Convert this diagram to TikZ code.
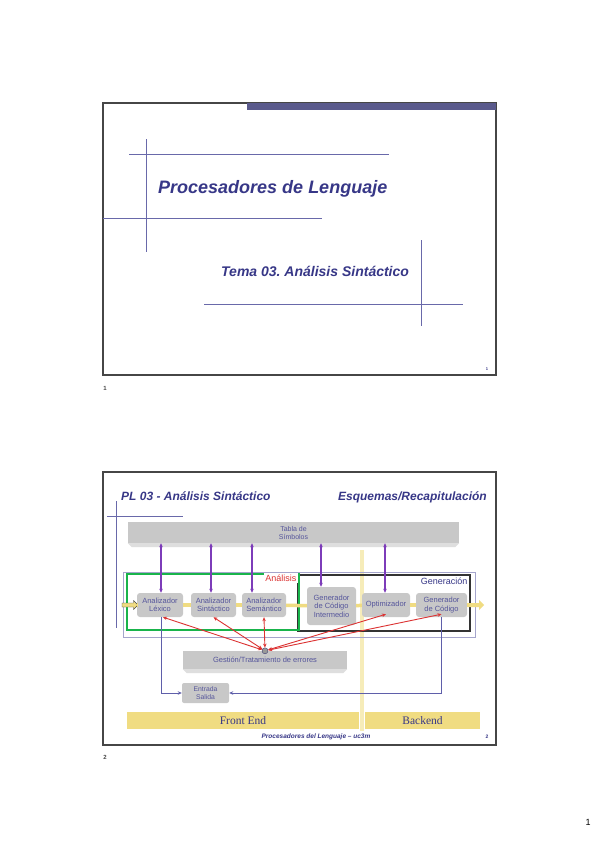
\documentclass[tikz,border=0pt]{standalone}
\usepackage{fontspec}
\setmainfont{Liberation Sans}
\newfontfamily\serifa{Liberation Serif}
\usetikzlibrary{arrows.meta,shapes.arrows}

\definecolor{azultit}{RGB}{55,55,135}
\definecolor{decor}{RGB}{105,105,170}
\definecolor{barra}{RGB}{90,90,140}
\definecolor{gris}{RGB}{200,200,200}
\definecolor{grisclaro}{RGB}{222,222,222}
\definecolor{textomod}{RGB}{85,85,155}
\definecolor{morado}{RGB}{125,60,185}
\definecolor{rojo}{RGB}{220,50,50}
\definecolor{verde}{RGB}{25,180,75}
\definecolor{amarillo}{RGB}{240,220,130}
\definecolor{separa}{RGB}{246,236,185}
\definecolor{azulin}{RGB}{95,95,170}
\definecolor{marco}{RGB}{70,70,70}

\tikzset{
  marcodiap/.style = {draw=marco, line width=1.5pt},
  lineadecor/.style = {draw=decor, line width=1pt},
  modulo/.style = {fill=gris, rounded corners=3pt, text=textomod, align=center,
                   inner sep=1pt, font=\fontsize{7.5}{8.5}\selectfont},
  bandagris/.style = {fill=gris, text=textomod, align=center, inner sep=1pt,
                      font=\fontsize{7.5}{8.5}\selectfont},
  bisel/.style = {fill=grisclaro},
  flujo/.style = {draw=amarillo, line width=3.5pt},
  consulta/.style = {draw=morado, line width=1.1pt, {Stealth[length=4pt,width=3.5pt]}-{Stealth[length=4pt,width=3.5pt]}},
  fallo/.style = {draw=rojo, line width=0.9pt, {Stealth[length=4pt,width=3.5pt]}-{Stealth[length=4pt,width=3.5pt]}},
  es/.style = {draw=azulin, line width=1pt, -{Stealth[length=4pt,width=3.5pt]}},
  banda/.style = {fill=amarillo, text=azultit, inner sep=0pt, font=\serifa\fontsize{11.5}{12}\selectfont},
  etiq/.style = {fill=white, inner sep=1.5pt, font=\fontsize{9}{10}\selectfont}
}

\begin{document}
\begin{tikzpicture}[x=1pt, y=-1pt]
  \useasboundingbox[fill=white] (0,0) rectangle (599,848);

  % diapositiva 1
  \draw[marcodiap] (103,103) rectangle (496,375);
  \fill[barra] (247,103) rectangle (496,110);
  \draw[lineadecor] (129,154) -- (389,154);
  \draw[lineadecor] (146,139) -- (146,252);
  \draw[lineadecor] (103,218) -- (322,218);
  \draw[lineadecor] (421,240) -- (421,326);
  \draw[lineadecor] (204,304) -- (463,304);
  \node[anchor=base west, text=azultit, inner sep=0pt, font=\fontsize{18}{20}\selectfont\bfseries\itshape] (titulo) at (158,193) {Procesadores de Lenguaje};
  \node[anchor=base west, text=azultit, inner sep=0pt, font=\fontsize{14}{16}\selectfont\bfseries\itshape] (tema) at (221,276) {Tema 03.\ Análisis Sintáctico};
  \node[text=azultit, inner sep=0pt, font=\fontsize{4}{5}\selectfont\bfseries] (num1) at (487,369) {1};
  \node[text=marco, inner sep=0pt, font=\fontsize{6}{7}\selectfont\bfseries] (pie1) at (105,388) {1};

  % diapositiva 2
  \draw[marcodiap] (103,472) rectangle (496,745);
  \draw[lineadecor] (116,501) -- (116,628);
  \draw[lineadecor] (107,516) -- (183,516);
  \node[anchor=base west, text=azultit, inner sep=0pt, font=\fontsize{12}{14}\selectfont\bfseries\itshape] (titulo2) at (121,500) {PL 03 - Análisis Sintáctico};
  \node[anchor=base east, text=azultit, inner sep=0pt, font=\fontsize{12}{14}\selectfont\bfseries\itshape] (esquemas) at (487,500) {Esquemas/Recapitulación};

  \fill[separa] (360,550) rectangle (364,731);

  \node[bandagris, minimum width=331, minimum height=21, font=\fontsize{7}{8}\selectfont] (tabla) at (293.5,532.5) {Tabla de\\Símbolos};
  \fill[bisel] (tabla.south west) -- (tabla.south east) -- ([shift={(-4,4)}]tabla.south east) -- ([shift={(4,4)}]tabla.south west) -- cycle;

  \draw[draw=decor!60, line width=0.8pt] (123,572) rectangle (475,637);
  \draw[draw=black!80, line width=2pt] (298,575) rectangle (470,631);
  \draw[draw=verde, line width=2pt] (127,574) rectangle (299,630);
  \node[etiq, text=rojo, anchor=north east] (analisis) at (298,573) {Análisis};
  \node[etiq, text=azultit, anchor=north east] (generacion) at (469,576) {Generación};

  \node[single arrow, draw=marco, fill=amarillo, minimum height=16, inner sep=1.8pt, single arrow head extend=2.5pt] (flechaent) at (129,605) {};
  \node[single arrow, fill=amarillo, minimum height=16, inner sep=1.8pt, single arrow head extend=3pt] (flechasal) at (475,605) {};

  \node[modulo, minimum width=46, minimum height=24] (lex) at (160,605) {Analizador\\Léxico};
  \node[modulo, minimum width=45, minimum height=24] (sin) at (213.5,605) {Analizador\\Sintáctico};
  \node[modulo, minimum width=44, minimum height=24] (sem) at (264,605) {Analizador\\Semántico};
  \node[modulo, minimum width=49, minimum height=38] (gci) at (331.5,606) {Generador\\de Código\\Intermedio};
  \node[modulo, minimum width=48, minimum height=24] (opt) at (386,605) {Optimizador};
  \node[modulo, minimum width=51, minimum height=24] (gen) at (441.5,605) {Generador\\de Código};

  \draw[flujo] (flechaent) -- (lex);
  \draw[flujo] (lex) -- (sin);
  \draw[flujo] (sin) -- (sem);
  \draw[flujo] (sem) -- (gci);
  \draw[flujo] (gci) -- (opt);
  \draw[flujo] (opt) -- (gen);
  \draw[flujo] (gen) -- (flechasal);

  \coordinate (plex) at ([xshift=1pt]lex.north);
  \coordinate (psin) at ([xshift=-2.5pt]sin.north);
  \coordinate (psem) at ([xshift=-12pt]sem.north);
  \coordinate (pgci) at ([xshift=-10.5pt]gci.north);
  \coordinate (popt) at ([xshift=-1pt]opt.north);
  \draw[consulta] (tabla.south -| plex) -- (plex);
  \draw[consulta] (tabla.south -| psin) -- (psin);
  \draw[consulta] (tabla.south -| psem) -- (psem);
  \draw[consulta] (tabla.south -| pgci) -- (pgci);
  \draw[consulta] (tabla.south -| popt) -- (popt);

  \node[bandagris, minimum width=164, minimum height=18] (gestion) at (265,660) {Gestión/Tratamiento de errores};
  \fill[bisel] (gestion.south west) -- (gestion.south east) -- ([shift={(-4,4)}]gestion.south east) -- ([shift={(4,4)}]gestion.south west) -- cycle;
  \node[circle, draw=azulin!70!black, fill=gray!80, minimum size=6pt, inner sep=0pt] (err) at (gestion.north) {};

  \draw[fallo] (err) -- ([xshift=3pt]lex.south);
  \draw[fallo] (err) -- (sin.south);
  \draw[fallo] (err) -- (sem.south);
  \draw[fallo] (err) -- ([yshift=3pt]opt.south);
  \draw[fallo] (err) -- ([yshift=3pt]gen.south);

  \node[modulo, rounded corners=2pt, minimum width=47, minimum height=20, font=\fontsize{6.8}{7.8}\selectfont] (entsal) at (205.5,693) {Entrada\\Salida};
  \draw[es] ([xshift=1pt]lex.south) |- (entsal.west);
  \draw[es] (gen.south) |- (entsal.east);

  \node[banda, minimum width=232, minimum height=17] (front) at (243,720.5) {Front End};
  \node[banda, minimum width=115, minimum height=17] (back) at (422.5,720.5) {Backend};

  \node[text=azultit, inner sep=0pt, font=\fontsize{6.5}{7}\selectfont\bfseries\itshape] (pie) at (316,737) {Procesadores del Lenguaje -- uc3m};
  \node[text=azultit, inner sep=0pt, font=\fontsize{5}{6}\selectfont\bfseries] (num2) at (487,737) {2};
  \node[text=marco, inner sep=0pt, font=\fontsize{6}{7}\selectfont\bfseries] (pie2) at (105,757) {2};

  \node[text=black, inner sep=0pt, font=\fontsize{9}{10}\selectfont] (pagina) at (588,822) {1};
\end{tikzpicture}
\end{document}
